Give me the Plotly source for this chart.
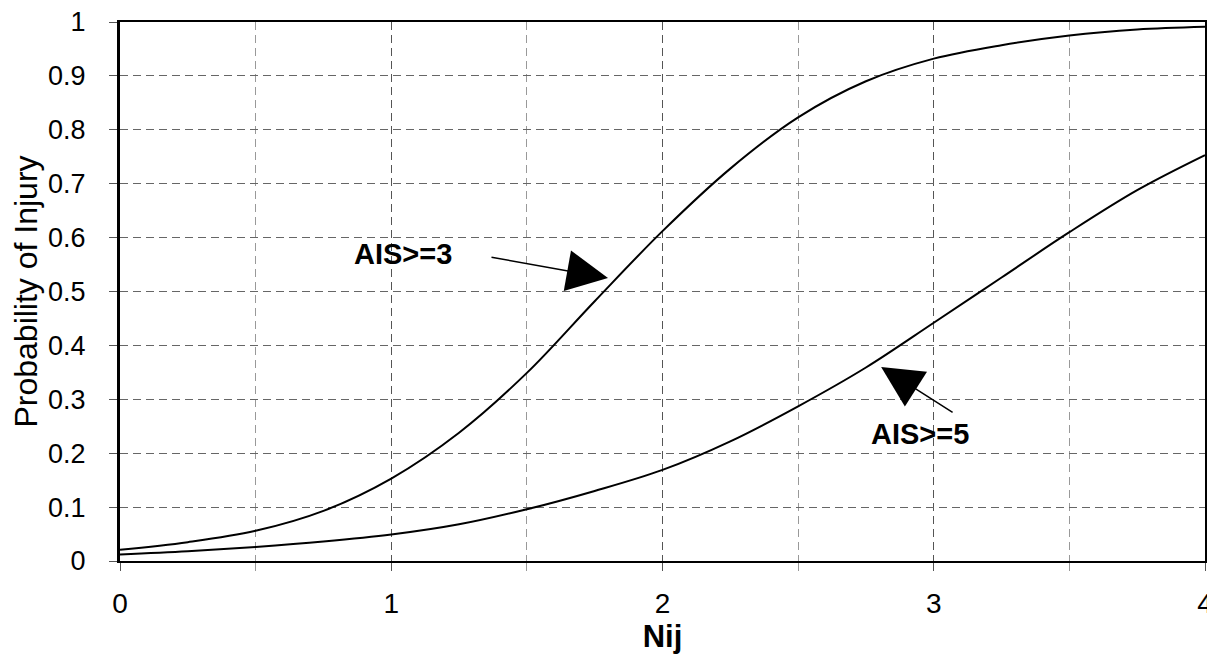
import plotly.graph_objects as go

nij = [0, 0.25, 0.5, 0.75, 1, 1.25, 1.5, 1.75, 2, 2.25, 2.5, 2.75, 3, 3.25, 3.5, 3.75, 4]
p_ais3 = [0.021, 0.035, 0.056, 0.093, 0.153, 0.238, 0.349, 0.482, 0.612, 0.728, 0.823,
          0.89, 0.932, 0.957, 0.975, 0.986, 0.991]
p_ais5 = [0.012, 0.018, 0.026, 0.036, 0.049, 0.068, 0.096, 0.13, 0.169, 0.222, 0.287,
          0.359, 0.442, 0.526, 0.61, 0.688, 0.753]

y_ticks = [0, 0.1, 0.2, 0.3, 0.4, 0.5, 0.6, 0.7, 0.8, 0.9, 1]
y_labels = ['0', '0.1', '0.2', '0.3', '0.4', '0.5', '0.6', '0.7', '0.8', '0.9', '1']

font_family = 'Liberation Sans, Arial, sans-serif'

fig = go.Figure()

for ys in (p_ais3, p_ais5):
    fig.add_trace(
        go.Scatter(
            x=nij,
            y=ys,
            mode='lines',
            line=dict(color='black', width=2, shape='spline', smoothing=1.0),
            showlegend=False,
            hoverinfo='skip'
        )
    )

# text labels
fig.add_annotation(x=1.043, y=0.569, text='<b>AIS>=3</b>', showarrow=False,
                   font=dict(size=29, color='black', family=font_family))
fig.add_annotation(x=2.949, y=0.236, text='<b>AIS>=5</b>', showarrow=False,
                   font=dict(size=29, color='black', family=font_family))

# arrows
arrows = [
    dict(x=1.799, y=0.525, ax=1.364, ay=0.564),
    dict(x=2.806, y=0.360, ax=3.075, ay=0.274),
]
for a in arrows:
    fig.add_annotation(
        x=a['x'], y=a['y'], ax=a['ax'], ay=a['ay'],
        xref='x', yref='y', axref='x', ayref='y',
        text='', showarrow=True,
        arrowhead=2, arrowsize=5.5, arrowwidth=1.5,
        arrowcolor='black', standoff=0
    )

# the page body adds an 8px margin, so the figure is sized to fit the window
fig.update_layout(
    width=1207,
    height=652,
    plot_bgcolor='white',
    paper_bgcolor='white',
    margin=dict(l=112, r=10, t=14, b=99),
    font=dict(family=font_family, size=28, color='black'),
    showlegend=False
)

fig.update_xaxes(
    range=[0, 4],
    tickvals=[0, 1, 2, 3, 4],
    ticktext=['0', '1', '2', '3', '4'],
    ticks='outside', ticklen=8, tickcolor='#555',
    ticklabelstandoff=8, ticklabeloverflow='allow',
    showgrid=True, gridcolor='#555', griddash='8px,5px', gridwidth=1,
    minor=dict(dtick=0.5, showgrid=True, gridcolor='#999', griddash='8px,5px',
               ticks='outside', ticklen=8, tickcolor='#999'),
    showline=True, linecolor='black', linewidth=2, mirror=True,
    zeroline=False, automargin=False,
    tickfont=dict(size=28),
    title=dict(text='<b>Nij</b>', font=dict(size=31), standoff=6)
)

fig.update_yaxes(
    range=[0, 1],
    tickvals=y_ticks,
    ticktext=y_labels,
    ticks='outside', ticklen=8, tickcolor='#555',
    ticklabelstandoff=18, ticklabeloverflow='allow',
    showgrid=True, gridcolor='#666', griddash='8px,5px', gridwidth=1,
    showline=True, linecolor='black', linewidth=3, mirror=True,
    zeroline=False, automargin=False,
    tickfont=dict(size=27),
    title=dict(text='Probability of Injury', font=dict(size=32), standoff=2)
)

fig.write_html("out.html")
